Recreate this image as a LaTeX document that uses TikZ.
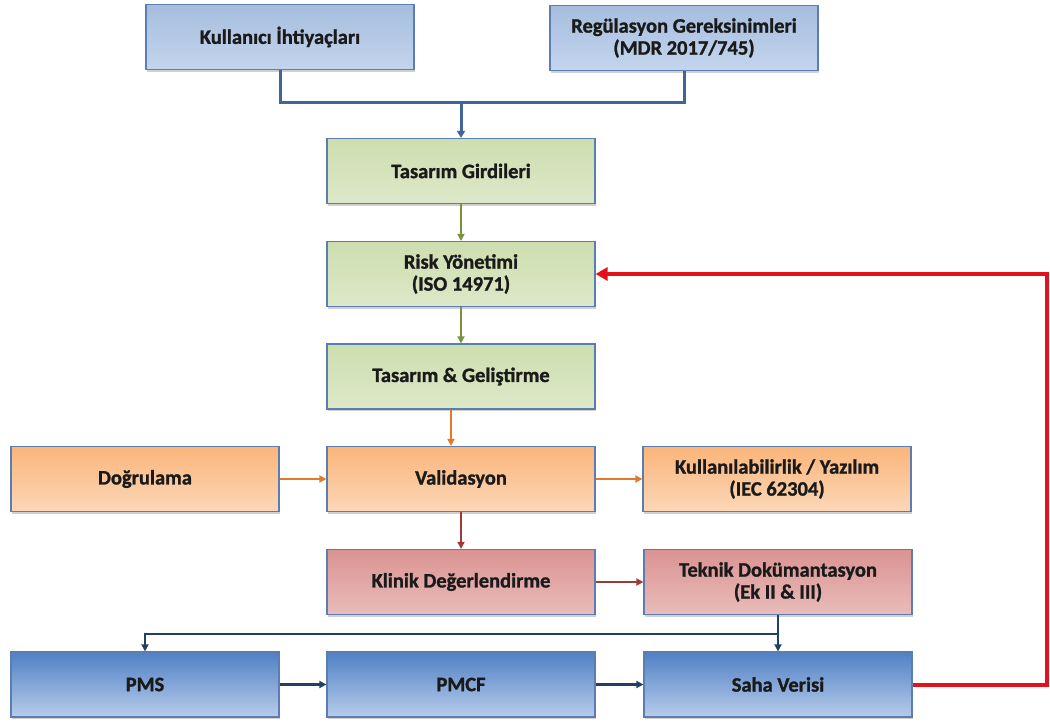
\documentclass[tikz,border=0pt]{standalone}
\usepackage{fontspec}
\setmainfont{Carlito}[BoldFeatures={FakeBold=1.2}]
\usetikzlibrary{arrows.meta,shadows,calc}
\definecolor{bordc}{HTML}{5B7DB1}
\definecolor{busblue}{HTML}{41659B}
\definecolor{garrow}{HTML}{77953B}
\definecolor{oarrow}{HTML}{E27A2A}
\definecolor{rarrow}{HTML}{9E3B39}
\definecolor{navy}{HTML}{223F66}
\definecolor{fbred}{HTML}{E2111A}
\definecolor{txt}{HTML}{1A1A1A}
\definecolor{tbT}{HTML}{A5BDDE}\definecolor{tbB}{HTML}{C4D5ED}
\definecolor{gbT}{HTML}{CDDEAE}\definecolor{gbB}{HTML}{DDE8C9}
\definecolor{obT}{HTML}{FAB57A}\definecolor{obB}{HTML}{FCD7B8}
\definecolor{rbT}{HTML}{DA9391}\definecolor{rbB}{HTML}{E9BCBB}
\definecolor{bbT}{HTML}{4F80C5}\definecolor{bbB}{HTML}{B8CCEA}
\tikzset{
  box/.style={rectangle, draw=bordc, line width=1.2pt, minimum width=268pt, minimum height=65pt,
    align=center, text=txt, font=\fontsize{20.5}{22}\selectfont\bfseries,
    drop shadow={shadow xshift=1.2pt, shadow yshift=-2.2pt, opacity=0.3, fill=black!60}},
  topbox/.style={box, top color=tbT, bottom color=tbB},
  greenbox/.style={box, top color=gbT, bottom color=gbB},
  orangebox/.style={box, top color=obT, bottom color=obB},
  redbox/.style={box, top color=rbT, bottom color=rbB},
  bluebox/.style={box, top color=bbT, bottom color=bbB},
  tip/.style={-{Triangle[length=7pt,width=7pt]}},
  topbus/.style={draw=busblue, line width=3pt},
  garr/.style={draw=garrow, line width=2.6pt, tip},
  oarr/.style={draw=oarrow, line width=2.6pt, tip},
  rarr/.style={draw=rarrow, line width=2.6pt, tip},
  narr/.style={draw=navy, line width=2.6pt},
  feedback/.style={draw=fbred, line width=4pt},
}
\begin{document}
\begin{tikzpicture}[x=1pt,y=-1pt]
\useasboundingbox[fill=white] (0,0) rectangle (1050,722);
% nodes
\node[topbox]    (kul)  at (280,37)  {Kullanıcı İhtiyaçları};
\node[topbox]    (reg)  at (684,38)  {Regülasyon Gereksinimleri\\(MDR 2017/745)};
\node[greenbox]  (tg)   at (461,171) {Tasarım Girdileri};
\node[greenbox]  (risk) at (461,274) {Risk Yönetimi\\(ISO 14971)};
\node[greenbox]  (tgel) at (461,376.5) {Tasarım \& Geliştirme};
\node[orangebox] (dog)  at (145,479) {Doğrulama};
\node[orangebox] (val)  at (461,479) {Validasyon};
\node[orangebox] (kull) at (777,479) {Kullanılabilirlik / Yazılım\\(IEC 62304)};
\node[redbox]    (klin) at (461,582) {Klinik Değerlendirme};
\node[redbox]    (tek)  at (778,582) {Teknik Dokümantasyon\\(Ek II \& III)};
\node[bluebox]   (pms)  at (145,684.5) {PMS};
\node[bluebox]   (pmcf) at (461,684.5) {PMCF};
\node[bluebox]   (saha) at (778,684.5) {Saha Verisi};
% top bus
\coordinate (j1) at ($(tg.north)+(0,-35)$);
\draw[topbus] (kul.south) |- (j1) -| (reg.south);
\draw[topbus, -{Triangle[length=7pt,width=8pt]}] (j1) -- (tg.north);
% green
\draw[garr] (tg.south) -- (risk.north);
\draw[garr] (risk.south) -- (tgel.north);
% orange
\draw[oarr] ([xshift=-10pt]tgel.south) -- ([xshift=-10pt]val.north);
\draw[oarr] (dog.east) -- (val.west);
\draw[oarr] (val.east) -- (kull.west);
% dark red
\draw[rarr] (val.south) -- (klin.north);
\draw[rarr] (klin.east) -- (tek.west);
% navy
\coordinate (j2) at ($(tek.south)+(0,19)$);
\draw[narr, -{Triangle[length=7pt,width=7pt]}] (tek.south) -- (saha.north);
\draw[narr, -{Triangle[length=7pt,width=7pt]}] (j2) -| (pms.north);
\draw[narr, -{Triangle[length=7pt,width=7pt]}] (pms.east) -- (pmcf.west);
\draw[narr, -{Triangle[length=7pt,width=7pt]}] (pmcf.east) -- (saha.west);
% feedback
\coordinate (fb1) at (1047,684.5);
\coordinate (fb2) at (1047,274);
\draw[feedback, -{Triangle[length=12pt,width=13pt]}] (saha.east) -- (fb1) -- (fb2) -- (risk.east);
\end{tikzpicture}
\end{document}
